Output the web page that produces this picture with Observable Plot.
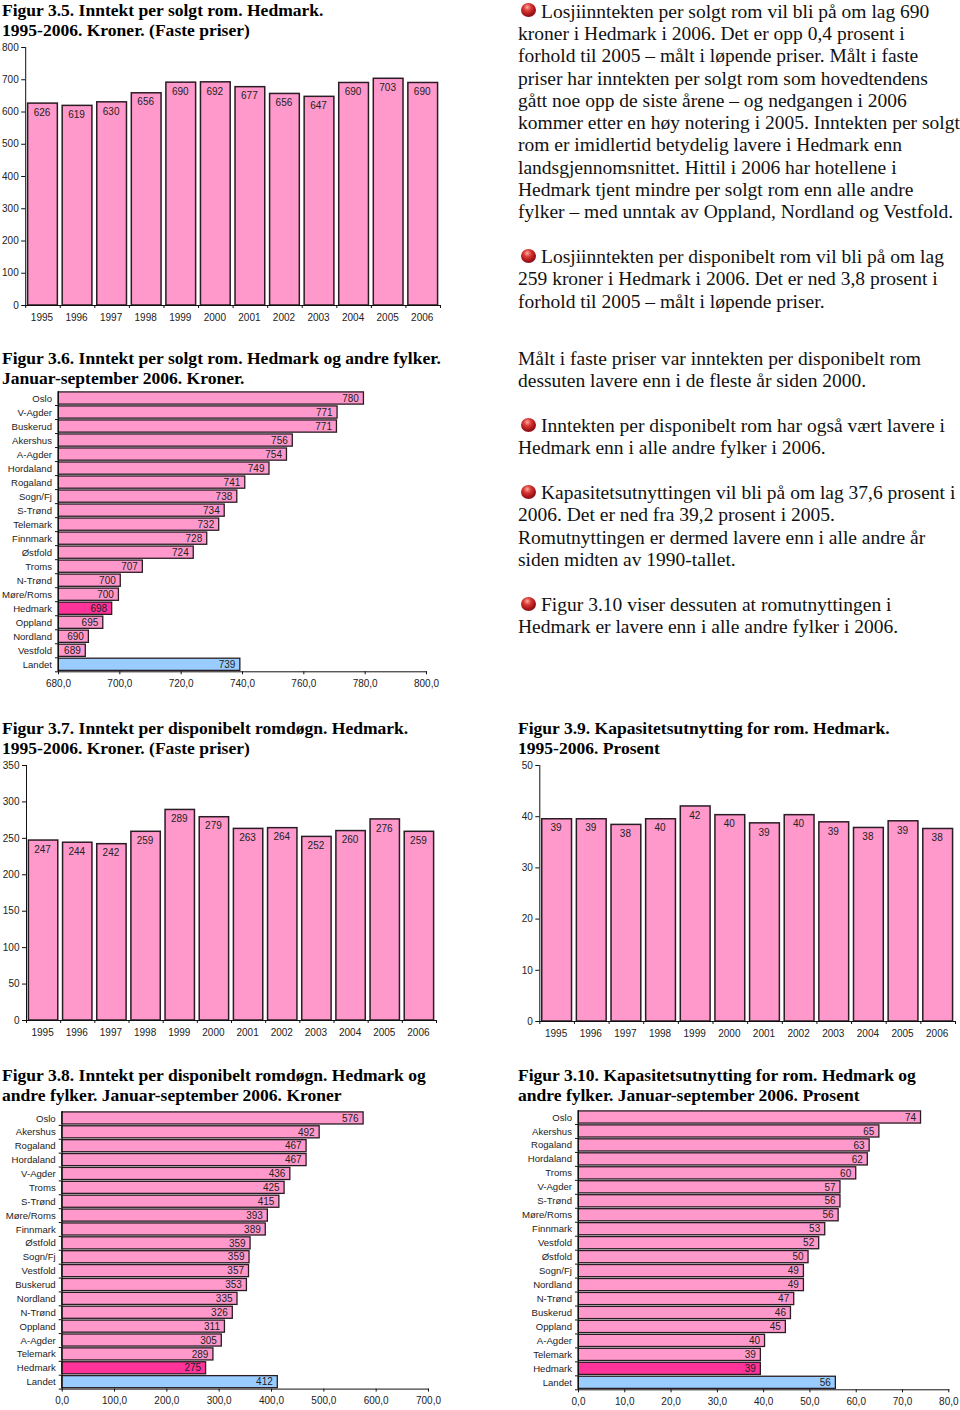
<!DOCTYPE html>
<html><head><meta charset="utf-8">
<script src="https://cdn.jsdelivr.net/npm/d3@7"></script>
<script src="https://cdn.jsdelivr.net/npm/@observablehq/plot@0.6"></script>
<style>
html,body{margin:0;padding:0;background:#fff;}
#page{position:relative;width:960px;height:1410px;overflow:hidden;}
.line{position:absolute;white-space:nowrap;font-family:"Liberation Serif",serif;color:#111;}
.body{font-size:19.5px;line-height:22px;}
.title{font-size:17.55px;line-height:20px;font-weight:bold;color:#000;}
.bullet{position:absolute;width:15px;height:14px;border-radius:50%;background:radial-gradient(circle at 42% 30%,#f4b0a8 0,#dc3a34 28%,#a01218 62%,#5c0a0e 100%);}
.chart{position:absolute;}
.chart svg{display:block;overflow:visible;}
</style></head><body><div id="page"></div>
<script>
const years = ["1995","1996","1997","1998","1999","2000","2001","2002","2003","2004","2005","2006"];

// Figur 3.5
const fig35Values = [626,619,630,658,691,692,677,656,647,690,703,690];
const fig35Labels = ["626","619","630","656","690","692","677","656","647","690","703","690"];
const fig35Ticks = [0,100,200,300,400,500,600,700,800];

// Figur 3.6
const fig36Names = ["Oslo","V-Agder","Buskerud","Akershus","A-Agder","Hordaland","Rogaland","Sogn/Fj","S-Trønd","Telemark","Finnmark","Østfold","Troms","N-Trønd","Møre/Roms","Hedmark","Oppland","Nordland","Vestfold","Landet"];
const fig36Values = [779.6,771,770.8,756.4,754.5,748.8,740.9,738.3,734.2,732.4,728.5,724.1,707.5,700.3,699.7,697.5,694.6,689.9,688.9,739.3];
const fig36Labels = ["780","771","771","756","754","749","741","738","734","732","728","724","707","700","700","698","695","690","689","739"];
const fig36Ticks = [680,700,720,740,760,780,800];

// Figur 3.7
const fig37Values = [247,244,242,259,289,279,263,264,252,260,276,259];
const fig37Labels = ["247","244","242","259","289","279","263","264","252","260","276","259"];
const fig37Ticks = [0,50,100,150,200,250,300,350];

// Figur 3.8
const fig38Names = ["Oslo","Akershus","Rogaland","Hordaland","V-Agder","Troms","S-Trønd","Møre/Roms","Finnmark","Østfold","Sogn/Fj","Vestfold","Buskerud","Nordland","N-Trønd","Oppland","A-Agder","Telemark","Hedmark","Landet"];
const fig38Values = [576,492,467,467,436,425,415,393,389,360,358,357,353,335,326,311,305,289,275,412];
const fig38Labels = ["576","492","467","467","436","425","415","393","389","359","359","357","353","335","326","311","305","289","275","412"];
const fig38Ticks = [0,100,200,300,400,500,600,700];

// Figur 3.9
const fig39Values = [39.5,39.5,38.4,39.5,42,40.3,38.7,40.3,38.9,37.8,39.1,37.6];
const fig39Labels = ["39","39","38","40","42","40","39","40","39","38","39","38"];
const fig39Ticks = [0,10,20,30,40,50];

// Figur 3.10
const fig310Names = ["Oslo","Akershus","Rogaland","Hordaland","Troms","V-Agder","S-Trønd","Møre/Roms","Finnmark","Vestfold","Østfold","Sogn/Fj","Nordland","N-Trønd","Buskerud","Oppland","A-Agder","Telemark","Hedmark","Landet"];
const fig310Values = [74,65,62.9,62.5,60,56.6,56.6,56.2,53.3,52,49.7,48.7,48.7,46.6,45.9,44.8,40.3,39.4,39.4,55.6];
const fig310Labels = ["74","65","63","62","60","57","56","56","53","52","50","49","49","47","46","45","40","39","39","56"];
const fig310Ticks = [0,10,20,30,40,50,60,70,80];

// Text
const titles = [
  [2,10,"Figur 3.5. Inntekt per solgt rom. Hedmark."],
  [2,30,"1995-2006. Kroner. (Faste priser)"],
  [2,358,"Figur 3.6. Inntekt per solgt rom. Hedmark og andre fylker."],
  [2,378,"Januar-september 2006. Kroner."],
  [2,728,"Figur 3.7. Inntekt per disponibelt romdøgn. Hedmark."],
  [2,748,"1995-2006. Kroner. (Faste priser)"],
  [518,728,"Figur 3.9. Kapasitetsutnytting for rom. Hedmark."],
  [518,748,"1995-2006. Prosent"],
  [2,1075,"Figur 3.8. Inntekt per disponibelt romdøgn. Hedmark og"],
  [2,1095,"andre fylker. Januar-september 2006. Kroner"],
  [518,1075,"Figur 3.10. Kapasitetsutnytting for rom. Hedmark og"],
  [518,1095,"andre fylker. Januar-september 2006. Prosent"]
];
const bodyLines = [
  [541,12,"Losjiinntekten per solgt rom vil bli på om lag 690"],
  [518,34,"kroner i Hedmark i 2006. Det er opp 0,4 prosent i"],
  [518,56,"forhold til 2005 – målt i løpende priser. Målt i faste"],
  [518,79,"priser har inntekten per solgt rom som hovedtendens"],
  [518,101,"gått noe opp de siste årene – og nedgangen i 2006"],
  [518,123,"kommer etter en høy notering i 2005. Inntekten per solgt"],
  [518,145,"rom er imidlertid betydelig lavere i Hedmark enn"],
  [518,168,"landsgjennomsnittet. Hittil i 2006 har hotellene i"],
  [518,190,"Hedmark tjent mindre per solgt rom enn alle andre"],
  [518,212,"fylker – med unntak av Oppland, Nordland og Vestfold."],
  [541,257,"Losjiinntekten per disponibelt rom vil bli på om lag"],
  [518,279,"259 kroner i Hedmark i 2006. Det er ned 3,8 prosent i"],
  [518,302,"forhold til 2005 – målt i løpende priser."],
  [518,359,"Målt i faste priser var inntekten per disponibelt rom"],
  [518,381,"dessuten lavere enn i de fleste år siden 2000."],
  [541,426,"Inntekten per disponibelt rom har også vært lavere i"],
  [518,448,"Hedmark enn i alle andre fylker i 2006."],
  [541,493,"Kapasitetsutnyttingen vil bli på om lag 37,6 prosent i"],
  [518,515,"2006. Det er ned fra 39,2 prosent i 2005."],
  [518,538,"Romutnyttingen er dermed lavere enn i alle andre år"],
  [518,560,"siden midten av 1990-tallet."],
  [541,605,"Figur 3.10 viser dessuten at romutnyttingen i"],
  [518,627,"Hedmark er lavere enn i alle andre fylker i 2006."]
];
const bulletRows = [11,257,426,493,605];

const pink = "#ff99cc", hot = "#ff3399", blue = "#99ccff", edge = "#2a1c24", ink = "#222";
const page = document.getElementById("page");
const fontStyle = {fontFamily:'"Liberation Sans",Arial,sans-serif',fontSize:"10px",background:"transparent",color:ink};

function place(svg,left,top){
  const d=document.createElement("div");d.className="chart";
  d.style.left=left+"px";d.style.top=top+"px";d.appendChild(svg);page.appendChild(d);
}
function columns(cfg){
  const {values,labels,ticks,left,x0,x1,y0,y1} = cfg;
  const data = years.map((y,i)=>({y,v:values[i],l:labels[i]}));
  const top=y0-7, bottom=y1+22, width=450;
  const step=(x1-x0)/years.length;
  const svg=Plot.plot({
    width,height:bottom-top,marginTop:7,marginBottom:22,marginLeft:x0-left,marginRight:left+width-x1,
    style:fontStyle,
    x:{type:"band",domain:years,round:false,paddingInner:0.14,paddingOuter:0.07,label:null},
    y:{domain:[ticks[0],ticks[ticks.length-1]],label:null},
    marks:[
      Plot.barY(data,{x:"y",y1:()=>0,y2:"v",fill:pink,stroke:edge,strokeWidth:1.5}),
      Plot.text(data,{x:"y",y:"v",text:"l",dy:9,dx:-1,fill:ink}),
      Plot.frame({anchor:"left",stroke:"#111"}),
      Plot.frame({anchor:"bottom",stroke:"#111"}),
      Plot.axisY({ticks,tickSize:4,tickPadding:3,stroke:"#111",fill:ink,tickFormat:d=>String(d)}),
      Plot.axisX({tickSize:3,dx:step/2,fill:"none",stroke:"#111"}),
      Plot.axisX({ticks:[years[0]],tickSize:3,dx:-step/2,fill:"none",stroke:"#111"}),
      Plot.axisX({tickSize:0,tickPadding:8,dx:-1,fill:ink})
    ]
  });
  place(svg,left,top);
}
function bars(cfg){
  const {names,values,labels,ticks,left,x0,x1,y0,y1} = cfg;
  const data = names.map((n,i)=>({n,v:values[i],l:labels[i]}));
  const top=y0-6, bottom=y1+21, width=450;
  const step=(y1-y0)/names.length;
  const d0=ticks[0];
  const svg=Plot.plot({
    width,height:bottom-top,marginTop:6,marginBottom:21,marginLeft:x0-left,marginRight:left+width-x1,
    style:fontStyle,
    y:{type:"band",domain:names,round:false,paddingInner:0.13,paddingOuter:0.065,label:null},
    x:{domain:[d0,ticks[ticks.length-1]],label:null},
    marks:[
      Plot.barX(data,{y:"n",x1:()=>d0,x2:"v",stroke:edge,strokeWidth:1.3,
        fill:d=>d.n==="Hedmark"?hot:d.n==="Landet"?blue:pink}),
      Plot.text(data,{y:"n",x:"v",text:"l",textAnchor:"end",dx:-5,fill:ink}),
      Plot.frame({anchor:"left",stroke:"#111"}),
      Plot.frame({anchor:"bottom",stroke:"#111"}),
      Plot.axisY({tickSize:3,dy:step/2,fill:"none",stroke:"#111"}),
      Plot.axisY({tickSize:0,tickPadding:6.5,fontSize:9.6,fill:ink}),
      Plot.axisX({ticks,tickSize:3,tickPadding:5,stroke:"#111",fill:ink,tickFormat:d=>d3.format(".1f")(d).replace(".",",")})
    ]
  });
  place(svg,left,top);
}

columns({values:fig35Values,labels:fig35Labels,ticks:fig35Ticks,left:0,x0:25.2,x1:440,y0:47,y1:305});
bars({names:fig36Names,values:fig36Values,labels:fig36Labels,ticks:fig36Ticks,left:0,x0:58,x1:426,y0:390.7,y1:671});
columns({values:fig37Values,labels:fig37Labels,ticks:fig37Ticks,left:0,x0:26,x1:436,y0:765,y1:1020});
columns({values:fig39Values,labels:fig39Labels,ticks:fig39Ticks,left:510,x0:539.3,x1:955,y0:764.7,y1:1020.7});
bars({names:fig38Names,values:fig38Values,labels:fig38Labels,ticks:fig38Ticks,left:0,x0:61.7,x1:428,y0:1110.7,y1:1388.3});
bars({names:fig310Names,values:fig310Values,labels:fig310Labels,ticks:fig310Ticks,left:510,x0:578,x1:948.3,y0:1110,y1:1389.3});

function addLine(cls,[x,y,t],lh){
  const d=document.createElement("div");d.className="line "+cls;
  d.style.left=x+"px";d.style.top=(y-lh/2)+"px";d.textContent=t;page.appendChild(d);
}
titles.forEach(r=>addLine("title",r,20));
bodyLines.forEach(r=>addLine("body",r,22));
bulletRows.forEach(y=>{
  const d=document.createElement("div");d.className="bullet";
  d.style.left="521px";d.style.top=(y-8)+"px";page.appendChild(d);
});
</script></body></html>
